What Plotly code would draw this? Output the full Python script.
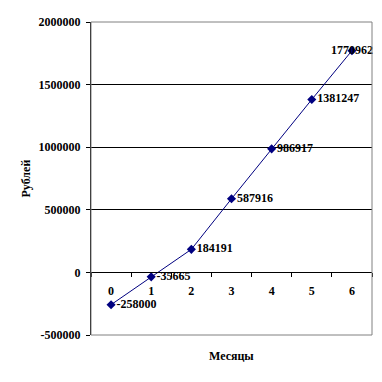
import plotly.graph_objects as go

months = ["0", "1", "2", "3", "4", "5", "6"]
values = [-258000, -35665, 184191, 587916, 986917, 1381247, 1770962]
labels = [str(v) for v in values]
y_ticks = [-500000, 0, 500000, 1000000, 1500000, 2000000]
x_title = "Месяцы"
y_title = "Рублей"

FONT = "Liberation Serif"
fig = go.Figure()
fig.add_trace(go.Scatter(
    x=months, y=values, mode="lines+markers+text",
    text=[f"<b>{t}</b>" for t in labels],
    textposition=["middle right"] * 6 + ["middle center"],
    textfont=dict(family=FONT, size=12, color="black"),
    line=dict(color="#000080", width=1),
    marker=dict(symbol="diamond", size=7, color="#000080"),
    cliponaxis=False, showlegend=False,
))
fig.update_layout(
    width=382, height=382,
    margin=dict(l=91, r=10, t=22, b=47, autoexpand=False),
    paper_bgcolor="white", plot_bgcolor="white",
    font=dict(family=FONT, size=12, color="black", weight="bold"),
    xaxis=dict(
        type="category", range=[-0.5, 6.5], automargin=False,
        anchor="free", position=0.2,
        showline=True, linecolor="black", linewidth=1,
        ticks="outside", tickson="boundaries", ticklen=4, tickcolor="black",
        ticklabelstandoff=7,
        showgrid=False, zeroline=False,
        tickfont=dict(family=FONT, size=12, color="black", weight="bold"),
    ),
    yaxis=dict(
        range=[-500000, 2000000], tickvals=y_ticks, automargin=False,
        ticktext=[str(v) for v in y_ticks],
        showline=True, linecolor="black", linewidth=1,
        ticks="outside", ticklen=4, tickcolor="black",
        ticklabelstandoff=3,
        showgrid=True, gridcolor="black", gridwidth=1,
        zeroline=False,
        tickfont=dict(family=FONT, size=12, color="black", weight="bold"),
    ),
    shapes=[dict(type="rect", xref="x domain", yref="y domain",
                 x0=0, x1=1, y0=0, y1=1, line=dict(color="#808080", width=1),
                 layer="above")],
    annotations=[
        dict(text=f"<b>{x_title}</b>", xref="x domain", yref="paper",
             x=0.5, y=-(356 - 335) / 313, yanchor="middle", xanchor="center",
             showarrow=False, font=dict(family=FONT, size=12, color="black")),
        dict(text=f"<b>{y_title}</b>", xref="paper", yref="y domain",
             x=-(91 - 25) / 281, y=0.5, textangle=-90, xanchor="center",
             yanchor="middle", showarrow=False,
             font=dict(family=FONT, size=12, color="black")),
    ],
)
fig.update_yaxes(layer="above traces")
fig.write_html("out.html", config={"displayModeBar": False},
               post_script="document.body.style.margin='0';")
